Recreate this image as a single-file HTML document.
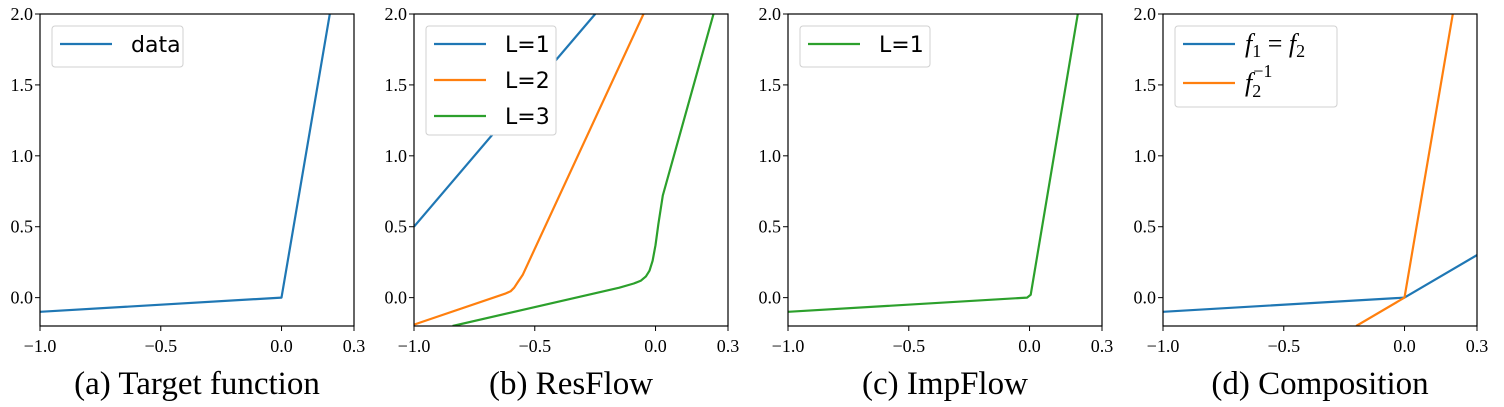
<!DOCTYPE html>
<html><head><meta charset="utf-8"><style>
html,body{margin:0;padding:0;background:#fff;}
svg{display:block;}
</style></head><body>
<svg id="fig" width="1504" height="407" xmlns="http://www.w3.org/2000/svg"></svg>
<script>
const xTicks=[-1.0,-0.5,0.0,0.3];
const xTickLabels=["\u22121.0","\u22120.5","0.0","0.3"];
const yTicks=[0.0,0.5,1.0,1.5,2.0];
const yTickLabels=["0.0","0.5","1.0","1.5","2.0"];
const captions=["(a) Target function","(b) ResFlow","(c) ImpFlow","(d) Composition"];
// panel a
const aX=[-1,0,0.2];
const aY=[-0.1,0,2.0];
// panel b
const bL1X=[-1,-0.25];
const bL1Y=[0.5,2.0];
const bL2X=[-1,-0.62,-0.6,-0.585,-0.57,-0.55,-0.05];
const bL2Y=[-0.19,0.03,0.045,0.07,0.11,0.16,2.0];
const bL3X=[-0.84,-0.15,-0.09,-0.06,-0.04,-0.025,-0.012,0.0,0.012,0.03,0.24];
const bL3Y=[-0.2,0.07,0.1,0.12,0.15,0.19,0.26,0.37,0.52,0.72,2.0];
// panel c
const cX=[-1,-0.01,0.005,0.2];
const cY=[-0.1,0,0.02,2.0];
// panel d
const dF1X=[-1,0,0.3];
const dF1Y=[-0.1,0,0.3];
const dInvX=[-0.2,0,0.2];
const dInvY=[-0.2,0,2.0];

const C={blue:"#1f77b4",orange:"#ff7f0e",green:"#2ca02c"};
const svg=document.getElementById('fig');
const NS="http://www.w3.org/2000/svg";
const lefts=[40,414,788,1163];
const W=314,TOP=14,BOT=326;
function mk(t,a,p){const e=document.createElementNS(NS,t);for(const k in a)e.setAttribute(k,a[k]);(p||svg).appendChild(e);return e;}
function sx(L,v){return L+(v+1)/1.3*W;}
function sy(v){return BOT-(v+0.2)/2.2*(BOT-TOP);}

const series=[
 [{x:aX,y:aY,c:C.blue,n:"data-line"}],
 [{x:bL1X,y:bL1Y,c:C.blue,n:"l1-line"},{x:bL2X,y:bL2Y,c:C.orange,n:"l2-line"},{x:bL3X,y:bL3Y,c:C.green,n:"l3-line"}],
 [{x:cX,y:cY,c:C.green,n:"impflow-line"}],
 [{x:dF1X,y:dF1Y,c:C.blue,n:"f1-line"},{x:dInvX,y:dInvY,c:C.orange,n:"f2-inverse-line"}]
];
const legends=[
 [{t:"data",c:C.blue}],
 [{t:"L=1",c:C.blue},{t:"L=2",c:C.orange},{t:"L=3",c:C.green}],
 [{t:"L=1",c:C.green}],
 [{t:"f1",c:C.blue},{t:"f2inv",c:C.orange}]
];
const panelNames=["panel-a","panel-b","panel-c","panel-d"];
lefts.forEach((L,i)=>{
 const g=mk('g',{});
 
 
 const cp=mk('clipPath',{id:'cp'+i},g);
 mk('rect',{x:L,y:TOP,width:W,height:BOT-TOP},cp);
 series[i].forEach(s=>{
  const pts=s.x.map((v,k)=>sx(L,v).toFixed(1)+","+sy(s.y[k]).toFixed(1)).join(" ");
  const pl=mk('polyline',{points:pts,fill:"none",stroke:s.c,"stroke-width":2.2,"stroke-linejoin":"round","clip-path":"url(#cp"+i+")"},g);
  
  
 });
 const fr=mk('rect',{x:L,y:TOP,width:W,height:BOT-TOP,fill:"none",stroke:"#000","stroke-width":1.2},g);
 
 
 xTicks.forEach((v,k)=>{
  const x=sx(L,v);
  mk('line',{x1:x,x2:x,y1:BOT,y2:BOT+5,stroke:"#000","stroke-width":1},g);
  const t=mk('text',{x:x,y:BOT+26,"text-anchor":"middle","font-family":"Liberation Serif, serif","font-size":18},g);
  t.textContent=xTickLabels[k];
  
  
 });
 yTicks.forEach((v,k)=>{
  const y=sy(v);
  mk('line',{x1:L-5,x2:L,y1:y,y2:y,stroke:"#000","stroke-width":1},g);
  const t=mk('text',{x:L-7,y:y+6,"text-anchor":"end","font-family":"Liberation Serif, serif","font-size":18},g);
  t.textContent=yTickLabels[k];
  
  
 });
 const cap=mk('text',{x:L+W/2,y:394,"text-anchor":"middle","font-family":"Liberation Serif, serif","font-size":33},g);
 cap.textContent=captions[i];
 
 
 const lg=legends[i];
 const isD=i===3;
 const bw= i===0?131:(i===3?162:130);
 const bh= lg.length===1?41:(lg.length===3?109:81);
 const lgG=mk('g',{},g);
 
 
 mk('rect',{x:L+12,y:26,width:bw,height:bh,rx:3,fill:"#fff",stroke:"#d0d0d0","stroke-width":1},lgG);
 const step= isD?39:36;
 lg.forEach((e,k)=>{
  const y=44+k*step;
  mk('line',{x1:L+20,x2:L+72,y1:y,y2:y,stroke:e.c,"stroke-width":2.2},lgG);
  const t=mk('text',{x:L+91,y:y+8,"font-family":"DejaVu Sans, Liberation Sans, sans-serif","font-size":22},lgG);
  if(e.t==="f1"){
   t.setAttribute('x',L+82);
   t.setAttribute('font-family','Liberation Serif, serif');t.setAttribute('font-style','italic');t.setAttribute('font-size','26');
   t.innerHTML='f<tspan font-size="18" dy="5" font-style="normal">1</tspan><tspan dy="-5" font-style="normal"> = </tspan>f<tspan font-size="18" dy="5" font-style="normal">2</tspan>';
  } else if(e.t==="f2inv"){
   t.setAttribute('x',L+82);
   t.setAttribute('font-family','Liberation Serif, serif');t.setAttribute('font-style','italic');t.setAttribute('font-size','26');
   t.innerHTML='f<tspan font-size="18" dy="6" font-style="normal">2</tspan><tspan font-size="18" dx="-8" dy="-20" font-style="normal">\u22121</tspan>';
  } else t.textContent=e.t;
  
  
 });
});
</script>
</body></html>
